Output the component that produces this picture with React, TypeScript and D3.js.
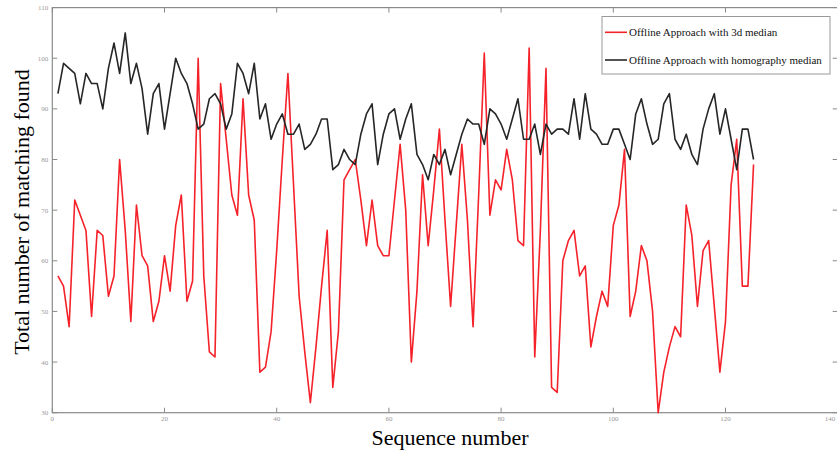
import React from "react";
import * as d3 from "d3";

const redValues = [57,55,47,72,69,66,49,66,65,53,57,80,66,48,71,61,59,48,52,61,54,67,73,52,56,100,57,42,41,95,84,73,69,92,73,68,38,39,46,62,80,97,75,53,42,32,43,55,66,35,46,76,78,80,72,63,72,63,61,61,72,83,70,40,54,77,63,74,86,68,51,67,83,68,47,73,101,69,76,74,82,76,64,63,102,41,66,98,35,34,60,64,66,57,59,43,49,54,51,67,71,82,49,54,63,60,50,30,38,43,47,45,71,65,51,62,64,51,38,48,75,84,55,55,79];
const blackValues = [93,99,98,97,91,97,95,95,90,98,103,97,105,95,99,94,85,93,95,86,93,100,97,95,91,86,87,92,93,91,86,89,99,97,93,99,88,91,84,87,89,85,85,87,82,83,85,88,88,78,79,82,80,79,85,89,91,79,85,89,90,84,88,91,81,79,76,81,79,82,77,81,85,88,87,87,83,90,89,87,84,88,92,84,84,87,81,87,85,86,86,85,92,84,93,86,85,83,83,86,86,83,80,89,92,87,83,84,91,93,84,82,85,81,79,86,90,93,85,90,84,78,86,86,80];
const xTicks = [0,20,40,60,80,100,120,140];
const yTicks = [30,40,50,60,70,80,90,100,110];
const legendLabels = ["Offline Approach with 3d median", "Offline Approach with homography median"];
const xLabel = "Sequence number";
const yLabel = "Total number of matching found";

export default function App() {
  const W = 837, H = 453;
  const x = d3.scaleLinear().domain([0, 140]).range([52.3, 837.7]);
  const y = d3.scaleLinear().domain([30, 110]).range([412.7, 7.6]);
  const line = d3.line<number>().x((_, i) => x(i + 1)).y(d => y(d));
  const serif = "'Liberation Serif', 'Times New Roman', serif";
  const axisColor = "#8a8a8a";
  const tickLen = 5;
  return (
    <svg width={W} height={H} style={{ position: "absolute", left: 0, top: 0, background: "#fff" }}>
      <rect x={0} y={0} width={W} height={H} fill="#fff" />
      <rect x={x(0)} y={y(110)} width={x(140) - x(0)} height={y(30) - y(110)} fill="none" stroke={axisColor} strokeWidth={1.2} />
      {xTicks.map(t => (
        <g key={"x" + t}>
          <line x1={x(t)} x2={x(t)} y1={y(30)} y2={y(30) - tickLen} stroke={axisColor} />
          <line x1={x(t)} x2={x(t)} y1={y(110)} y2={y(110) + tickLen} stroke={axisColor} />
          <text x={Math.min(x(t), 830)} y={y(30) + 8.5} fontSize={7} fill="#999" textAnchor="middle" fontFamily={serif}>{t}</text>
        </g>
      ))}
      {yTicks.map(t => (
        <g key={"y" + t}>
          <line x1={x(0)} x2={x(0) + tickLen} y1={y(t)} y2={y(t)} stroke={axisColor} />
          <line x1={x(140)} x2={x(140) - tickLen} y1={y(t)} y2={y(t)} stroke={axisColor} />
          <text x={x(0) - 4} y={y(t) + 2.5} fontSize={7} fill="#999" textAnchor="end" fontFamily={serif}>{t}</text>
        </g>
      ))}
      <path d={line(redValues) || ""} fill="none" stroke="#f5222a" strokeWidth={1.6} strokeLinejoin="round" />
      <path d={line(blackValues) || ""} fill="none" stroke="#262626" strokeWidth={1.6} strokeLinejoin="round" />
      <rect x={602} y={16.5} width={228} height={57.5} fill="#fff" stroke="#999" strokeWidth={1} />
      <line x1={605} x2={627} y1={32.3} y2={32.3} stroke="#f5222a" strokeWidth={1.6} />
      <text x={629} y={36} fontSize={11} fontFamily={serif} fill="#111">{legendLabels[0]}</text>
      <line x1={605} x2={627} y1={60} y2={60} stroke="#262626" strokeWidth={1.6} />
      <text x={629} y={63.7} fontSize={11} fontFamily={serif} fill="#111">{legendLabels[1]}</text>
      <text x={450} y={445} fontSize={22} fontFamily={serif} textAnchor="middle" fill="#000">{xLabel}</text>
      <text transform={`translate(29,212) rotate(-90)`} fontSize={22} fontFamily={serif} textAnchor="middle" fill="#000">{yLabel}</text>
    </svg>
  );
}
